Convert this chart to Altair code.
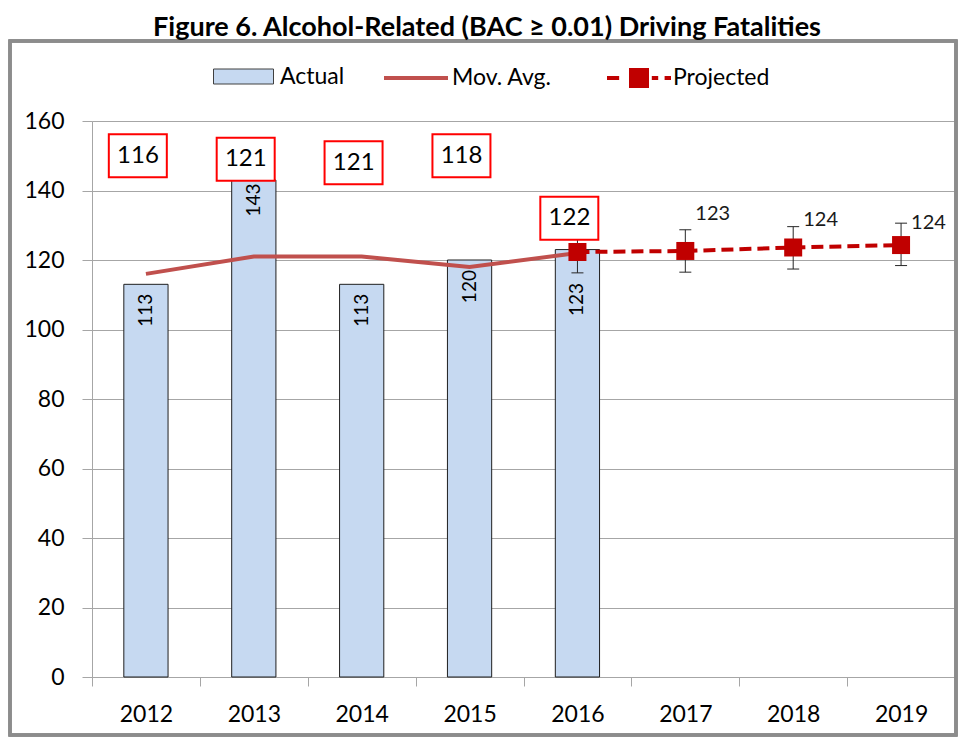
import altair as alt
import pandas as pd

# ---- data ----
years = ["2012", "2013", "2014", "2015", "2016", "2017", "2018", "2019"]
actual_years = ["2012", "2013", "2014", "2015", "2016"]
actual = [113, 143, 113, 120, 123]
actual_label_y = [110.3, 142.0, 110.3, 117.1, 113.4]
mov_avg = [116, 121, 121, 118, 122]
mov_label_y = [150, 149, 148, 150, 132]
proj_years = ["2016", "2017", "2018", "2019"]
projected = [122.3, 122.6, 123.6, 124.3]
proj_low = [116.3, 116.5, 117.4, 118.4]
proj_high = [128.0, 128.7, 129.6, 130.6]
proj_label_years = ["2017", "2018", "2019"]
proj_labels = ["123", "124", "124"]
proj_label_y = [133.1, 131.4, 130.6]

W, H = 863, 556
FONT = "Lato"

df_act = pd.DataFrame({"year": actual_years, "value": actual, "ly": actual_label_y,
                       "label": [str(v) for v in actual]})
df_mov = pd.DataFrame({"year": actual_years, "value": mov_avg, "ly": mov_label_y,
                       "label": [str(v) for v in mov_avg]})
df_proj = pd.DataFrame({"year": proj_years, "value": projected, "low": proj_low, "high": proj_high})
df_plab = pd.DataFrame({"year": proj_label_years, "ly": proj_label_y, "label": proj_labels})

xenc = alt.X("year:N", scale=alt.Scale(domain=years, paddingInner=0, paddingOuter=0),
             axis=alt.Axis(title=None, labelAngle=0, tickBand="extent", tickSize=9,
                           labelPadding=17, labelFontSize=23, labelColor="#000000",
                           domainColor="#A6A6A6", tickColor="#A6A6A6", labelFont=FONT))
yscale = alt.Scale(domain=[0, 160], nice=False)
yaxis = alt.Axis(title=None, values=[0, 20, 40, 60, 80, 100, 120, 140, 160], grid=True,
                 gridColor="#A6A6A6", domainColor="#A6A6A6", tickColor="#A6A6A6",
                 tickSize=10, labelPadding=18, labelFontSize=23, labelColor="#000000",
                 labelFont=FONT)

bars = alt.Chart(df_act).mark_bar(width=alt.RelativeBandSize(0.41), stroke="#1F1F1F",
                                  strokeWidth=1).encode(
    x=xenc,
    y=alt.Y("value:Q", scale=yscale, axis=yaxis),
    color=alt.Color("legend:N", scale=alt.Scale(domain=["Actual"], range=["#C6D9F1"]),
                    legend=alt.Legend(title=None, orient="none", legendX=121, legendY=-75,
                                      symbolType="M-1,-0.25H1V0.25H-1Z", symbolSize=3600,
                                      symbolStrokeColor="#404040", symbolStrokeWidth=1,
                                      labelFontSize=23, labelFont=FONT, labelColor="#000000",
                                      labelOffset=6, padding=0)),
).transform_calculate(legend="'Actual'")

bar_labels = alt.Chart(df_act).mark_text(angle=270, align="right", baseline="middle",
                                         fontSize=19, font=FONT, color="#000000").encode(
    x=alt.X("year:N", scale=alt.Scale(domain=years)),
    y=alt.Y("ly:Q", scale=yscale),
    text="label:N",
)

mov_line = alt.Chart(df_mov).mark_line(strokeWidth=4).encode(
    x=alt.X("year:N"),
    y=alt.Y("value:Q", scale=yscale),
    color=alt.Color("legend:N", scale=alt.Scale(domain=["Mov. Avg."], range=["#C0504D"]),
                    legend=alt.Legend(title=None, orient="none", legendX=290, legendY=-77,
                                      symbolType="stroke", symbolSize=4096,
                                      symbolStrokeWidth=4,
                                      labelFontSize=23, labelFont=FONT, labelColor="#000000",
                                      labelOffset=2, padding=0)),
).transform_calculate(legend="'Mov. Avg.'")

box_path = "M-1.28,-0.74H0.72V0.74H-1.28Z"
mov_boxes = alt.Chart(df_mov).mark_point(shape=box_path, size=3364, filled=True, fill="#FFFFFF",
                                         stroke="#FF0000", strokeWidth=2, opacity=1).encode(
    x=alt.X("year:N"),
    y=alt.Y("ly:Q", scale=yscale),
)
mov_text = alt.Chart(df_mov).mark_text(dx=-8, fontSize=24, font=FONT, color="#000000",
                                       baseline="middle", align="center").encode(
    x=alt.X("year:N"),
    y=alt.Y("ly:Q", scale=yscale),
    text="label:N",
)

err_rule = alt.Chart(df_proj).mark_rule(color="#262626", strokeWidth=1).encode(
    x=alt.X("year:N"),
    y=alt.Y("low:Q", scale=yscale),
    y2="high:Q",
)
err_cap_hi = alt.Chart(df_proj).mark_tick(orient="horizontal", size=12, thickness=1,
                                          color="#262626", opacity=1).encode(
    x=alt.X("year:N"), y=alt.Y("high:Q", scale=yscale))
err_cap_lo = alt.Chart(df_proj).mark_tick(orient="horizontal", size=12, thickness=1,
                                          color="#262626", opacity=1).encode(
    x=alt.X("year:N"), y=alt.Y("low:Q", scale=yscale))

proj_line = alt.Chart(df_proj).mark_line(color="#C00000", strokeWidth=4,
                                         strokeDash=[12, 6]).encode(
    x=alt.X("year:N"),
    y=alt.Y("value:Q", scale=yscale),
)
proj_sym = "M-1,0H-0.62M-0.25,-0.25H0.25V0.25H-0.25ZM0.4,0H0.6M0.8,0H1"
proj_pts = alt.Chart(df_proj).mark_square(size=324, opacity=1).encode(
    x=alt.X("year:N"),
    y=alt.Y("value:Q", scale=yscale),
    color=alt.Color("legend:N", scale=alt.Scale(domain=["Projected"], range=["#C00000"]),
                    legend=alt.Legend(title=None, orient="none", legendX=513, legendY=-77,
                                      symbolType=proj_sym, symbolSize=4096,
                                      symbolStrokeWidth=4, symbolStrokeColor="#C00000",
                                      symbolFillColor="#C00000",
                                      labelFontSize=23, labelFont=FONT, labelColor="#000000",
                                      labelOffset=0, padding=0)),
).transform_calculate(legend="'Projected'")

proj_text = alt.Chart(df_plab).mark_text(align="left", dx=10, baseline="middle", fontSize=20,
                                         font=FONT, color="#1A1A1A").encode(
    x=alt.X("year:N"),
    y=alt.Y("ly:Q", scale=yscale),
    text="label:N",
)

border = alt.Chart(df_act).mark_rect(fill=None, stroke="#8C8C8C", strokeWidth=3,
                                     clip=False).encode(
    x=alt.value(-82), x2=alt.value(864), y=alt.value(-80), y2=alt.value(614),
)

chart = alt.layer(
    border, bars, bar_labels, mov_line, err_rule, err_cap_hi, err_cap_lo,
    proj_line, proj_pts, mov_boxes, mov_text, proj_text,
).resolve_scale(color="independent").resolve_legend(color="independent").properties(
    width=W, height=H,
    autosize=alt.AutoSizeParams(type="none"),
    padding={"left": 84, "top": 113, "right": 4, "bottom": 60},
    title=alt.TitleParams("Figure 6. Alcohol-Related (BAC \u2265 0.01) Driving Fatalities",
                          font=FONT, fontSize=27, fontWeight="bold", color="#000000",
                          anchor="middle", frame="bounds", offset=-2.5, dx=4),
).configure_view(stroke=None).configure(font=FONT)

chart.save("out.html", embed_options={"renderer": "svg", "actions": False})
